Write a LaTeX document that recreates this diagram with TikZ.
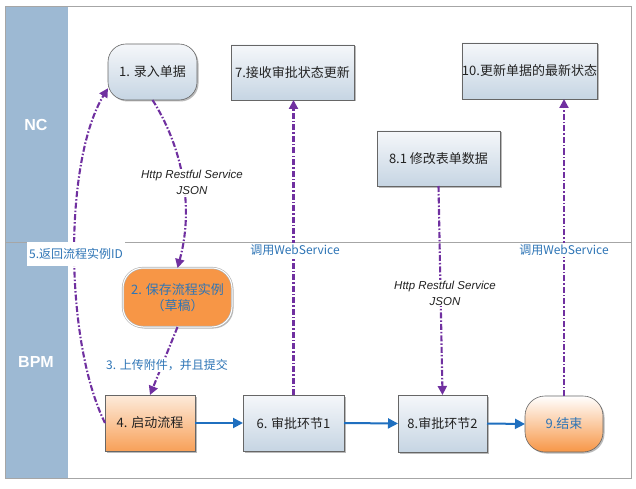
\documentclass[tikz,border=0pt]{standalone}
\usepackage{fontspec}
\setmainfont{Noto Sans CJK SC}
\newfontfamily\latinit{Liberation Sans}
\usetikzlibrary{arrows.meta,shadows,calc}
\definecolor{lanehead}{HTML}{9DB9D3}
\definecolor{framegray}{HTML}{A6A6A6}
\definecolor{edgepurple}{HTML}{7030A0}
\definecolor{flowblue}{HTML}{1F6FBF}
\definecolor{labelblue}{HTML}{2E75B6}
\definecolor{boxtop}{HTML}{F5F7FA}
\definecolor{boxbot}{HTML}{C6D5E3}
\definecolor{orangetop}{HTML}{FDEBDB}
\definecolor{orangebot}{HTML}{F79646}
\definecolor{txt}{HTML}{222222}
\tikzset{
  every node/.style={inner sep=0pt, outer sep=0pt},
  nodebase/.style={draw=gray!80!black, line width=0.6pt, text=txt,
    font=\fontsize{13}{16}\selectfont, align=center,
    drop shadow={shadow xshift=1.5pt, shadow yshift=-1.5pt, fill=black!45, opacity=0.6}},
  bluebox/.style={nodebase, top color=boxtop, bottom color=boxbot},
  bluepill/.style={bluebox, rounded corners=18pt},
  orangepill/.style={nodebase, fill=orangebot, draw=gray!60, double=white, double distance=1pt, rounded corners=20pt, text=labelblue},
  orangebox/.style={nodebase, top color=orangetop, bottom color=orangebot!90},
  orangepillgrad/.style={nodebase, top color=white, bottom color=orangebot, rounded corners=20pt, text=labelblue},
  calledge/.style={draw=edgepurple, line width=2.1pt,
    dash pattern=on 6pt off 2pt on 1.5pt off 2pt,
    -{Triangle[width=9pt,length=9pt]}},
  flowedge/.style={draw=flowblue, line width=2pt, -{Triangle[width=10pt,length=10pt]}},
  hand/.style={fill=white, text=txt, font=\latinit\itshape\fontsize{11.5}{16}\selectfont, align=center, inner sep=1pt},
  bluelabel/.style={fill=white, text=labelblue, font=\fontsize{12}{14}\selectfont, inner sep=1.5pt},
  lanelabel/.style={text=white, font=\latinit\bfseries\fontsize{16}{18}\selectfont}
}
\begin{document}
\begin{tikzpicture}[x=1pt,y=-1pt]
\useasboundingbox (0,0) rectangle (636,489);
\fill[white] (0,0) rectangle (636,489);
% lanes
\fill[lanehead] (5,7) rectangle (68,478);
\draw[framegray, line width=1pt] (5,7) rectangle (631,478);
\draw[framegray, line width=1pt] (5,242) -- (631,242);
\node[lanelabel] (lnc) at (36,125) {NC};
\node[lanelabel] (lbpm) at (36,362) {BPM};
% nodes
\node[bluepill, minimum width=89pt, minimum height=56pt] (n1) at (152.5,72) {1. 录入单据};
\node[bluebox, minimum width=123pt, minimum height=55pt] (n7) at (292.5,72.5) {7.接收审批状态更新};
\node[bluebox, minimum width=129pt, minimum height=56pt] (n10) at (529.5,71) {10.更新单据的最新状态};
\node[bluebox, minimum width=123pt, minimum height=55pt] (n81) at (438.5,158.5) {8.1 修改表单数据};
\node[orangepill, minimum width=109pt, minimum height=59pt] (n2) at (177.5,297.5) {2. 保存流程实例\\（草稿）};
\node[orangebox, minimum width=90pt, minimum height=56pt] (n4) at (150,423) {4. 启动流程};
\node[bluebox, minimum width=101pt, minimum height=56pt] (n6) at (293.5,423) {6. 审批环节1};
\node[bluebox, minimum width=89pt, minimum height=57pt] (n8) at (442.5,423.5) {8.审批环节2};
\node[orangepillgrad, minimum width=78pt, minimum height=56pt] (n9) at (564,424) {9.结束};
% flow arrows
\draw[flowedge] (n4.east) -- (n6.west);
\draw[flowedge] (n6.east) -- (n8.west);
\draw[flowedge] (n8.east) -- (n9.west);
% call edges
\draw[calledge] (n1.south) .. controls (178,140) and (196,200) .. (n2.north);
\node[hand] (l1) at (192,182) {Http Restful Service\\JSON};
\draw[calledge] (n2.south) -- (n4.north);
\node[bluelabel] (l3) at (167,365) {3. 上传附件，并且提交};
\draw[calledge] (n4.west) .. controls (64,340) and (64,160) .. (n1.200);
\node[bluelabel, minimum width=98pt, minimum height=24pt] (l5) at (76,254) {5.返回流程实例ID};
\draw[calledge] (n6.north) -- (n6.north |- n7.south);
\node[bluelabel] (l6) at (295,250) {调用WebService};
\draw[calledge] (n81.south) -- (n8.north);
\node[hand] (l8) at (445,293) {Http Restful Service\\JSON};
\draw[calledge] (n9.north) -- (n9.north |- n10.south);
\node[bluelabel] (l9) at (564,250) {调用WebService};
\end{tikzpicture}
\end{document}
